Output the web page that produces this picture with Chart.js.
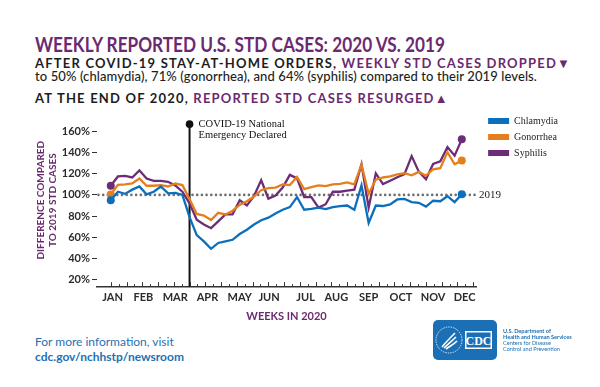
<!DOCTYPE html>
<html>
<head>
<meta charset="utf-8">
<script src="https://cdn.jsdelivr.net/npm/chart.js@4.4.0/dist/chart.umd.min.js"></script>
<style>
  body { margin: 0; background: #fff; }
  #page { position: relative; width: 600px; height: 387px; overflow: hidden; font-family: Lato, "Open Sans", sans-serif; }
  .line { position: absolute; left: 35px; white-space: nowrap; }
  .purple { color: #6b2a70; }
  #title { top: 32px; font-size: 20px; font-weight: 700; color: #6b2a70; transform: scaleX(0.86); transform-origin: 0 0; }
  #sub1 { top: 55px; font-size: 13px; font-weight: 700; color: #1d1d1d; letter-spacing: 1.2px; }
  #sub2 { top: 68px; font-size: 13px; font-weight: 500; color: #1d1d1d; letter-spacing: 0.1px; }
  #sub3 { top: 90px; font-size: 13px; font-weight: 700; color: #1d1d1d; letter-spacing: 1.2px; }
  #chartBox { position: absolute; left: 0; top: 105px; width: 600px; height: 225px; }
  #more { top: 334px; font-size: 12px; color: #1f70b4; }
  #url { top: 349px; font-size: 12px; font-weight: 700; color: #1f70b4; }
  #logo { position: absolute; left: 433px; top: 320px; width: 64px; height: 40px; background: #1b6fb5; border-radius: 5px; }
  #hhs { position: absolute; left: 503px; top: 328px; font-size: 5.6px; line-height: 6px; color: #1b6fb5; white-space: nowrap; }
  #hhs b { font-weight: 700; }
</style>
</head>
<body>
<div id="page">
  <div id="title" class="line">WEEKLY REPORTED U.S. STD CASES: 2020 VS. 2019</div>
  <div id="sub1" class="line">AFTER COVID-19 STAY-AT-HOME ORDERS, <span class="purple">WEEKLY STD CASES DROPPED▼</span></div>
  <div id="sub2" class="line">to 50% (chlamydia), 71% (gonorrhea), and 64% (syphilis) compared to their 2019 levels.</div>
  <div id="sub3" class="line">AT THE END OF 2020, <span class="purple">REPORTED STD CASES RESURGED▲</span></div>

  <div id="chartBox"><canvas id="stdChart" width="600" height="225"></canvas></div>

  <div id="more" class="line">For more information, visit</div>
  <div id="url" class="line">cdc.gov/nchhstp/newsroom</div>

  <div id="logo">
    <svg width="64" height="40" viewBox="0 0 64 40">
      <circle cx="16" cy="20" r="13" fill="none" stroke="#fff" stroke-width="0.8" stroke-dasharray="1.5 1"/>
      <path d="M9 27 C13 22 16 19 22 13 M11 28 C15 24 18 22 23 17 M13 29 C17 26 20 25 24 21" stroke="#fff" stroke-width="1.6" fill="none"/>
      <rect x="32" y="11" width="27" height="18" fill="#fff"/>
      <rect x="33.5" y="12.5" width="24" height="15" fill="#1b6fb5"/>
      <text x="45.5" y="24.5" text-anchor="middle" font-family="Liberation Serif" font-weight="700" font-size="12" fill="#fff">CDC</text>
    </svg>
  </div>
  <div id="hhs"><b>U.S. Department of<br>Health and Human Services</b><br>Centers for Disease<br>Control and Prevention</div>
</div>

<script>
// Values: % of the same week in 2019, weeks 1-50 of 2020
const chlamydia = [95, 103, 101, 105, 108, 100.5, 103, 108, 101.5, 102,
  100, 79, 62, 56, 49, 54.5, 56, 57.5, 63, 67,
  72, 76, 78.5, 82.5, 86, 88.5, 98, 86, 86.7, 88,
  86.5, 88.5, 89.3, 90, 86, 109, 73.5, 90, 89.5, 91,
  95.7, 96.3, 93.2, 92.5, 89, 94.5, 94, 98.8, 93.2, 100.7];
const gonorrhea = [100.4, 109.6, 110, 110.8, 115.5, 108.7, 108.7, 109.3, 108, 110.8,
  109.3, 96, 82, 80.5, 76.3, 83, 81.5, 85, 90.5, 94,
  98.5, 104.5, 106.5, 107, 110, 109.3, 117, 105.5, 107.3, 109,
  108.3, 110, 110.5, 111.8, 110, 128.7, 101, 114.5, 116.5, 117.5,
  119.5, 120.5, 118.5, 121.8, 118.2, 124.3, 125.3, 140.5, 129, 132.6];
const syphilis = [108.7, 117.5, 118, 116.5, 123.3, 115.5, 113.3, 113.3, 112.4, 109,
  103, 92, 76.5, 72, 68.5, 75, 81.5, 81.5, 95, 90,
  99, 114, 96.5, 99.4, 107, 119, 115.7, 98, 98, 88,
  91.2, 103, 103, 104, 105, 129, 88, 120.4, 110.2, 113.5,
  116.7, 119.7, 136.8, 122, 114.8, 129.3, 131.8, 145.3, 137.2, 152.6];

const months = ["JAN", "FEB", "MAR", "APR", "MAY", "JUN", "JUL", "AUG", "SEP", "OCT", "NOV", "DEC"];
const monthWeeks = [0.25, 4.55, 9, 13.5, 18, 22.1, 27.2, 31.5, 36, 40.5, 45, 49.4];
const yTicks = [20, 40, 60, 80, 100, 120, 140, 160];

const baseline = 100;      // 2019 level
const covidWeek = 11;      // national emergency declared
const covidTop = 167;
const minorStep = 1.1;     // spacing of the small axis ticks, in weeks

const purple = "#6b2a70";
const colors = { chlamydia: "#0a6fbc", gonorrhea: "#e57f1d", syphilis: "#6c2c78" };
const labelFont = { family: "Lato", weight: "bold", size: 11 };

const toPoints = (arr) => arr.map((v, i) => ({ x: i, y: v }));
const endDots = (ctx) => (ctx.dataIndex === 0 || ctx.dataIndex === ctx.dataset.data.length - 1) ? 4 : 0;

function series(label, data, color) {
  return {
    label: label,
    data: toPoints(data),
    yAxisID: "y",
    borderColor: color,
    backgroundColor: color,
    borderWidth: 2.3,
    tension: 0,
    pointRadius: endDots,
    pointHoverRadius: endDots,
    pointBorderWidth: 0,
    pointBackgroundColor: color
  };
}

// small up-pointing week ticks on the x axis
const tickMarks = {
  id: "tickMarks",
  afterDraw(chart) {
    const { ctx, chartArea, scales: { x } } = chart;
    ctx.save();
    ctx.strokeStyle = "#333";
    ctx.lineWidth = 1;
    for (let k = 0; k * minorStep <= x.max - 0.3; k++) {
      const px = Math.round(x.getPixelForValue(k * minorStep)) + 0.5;
      const len = k % 2 === 0 ? 4.5 : 2.5;
      ctx.beginPath();
      ctx.moveTo(px, chartArea.bottom);
      ctx.lineTo(px, chartArea.bottom - len);
      ctx.stroke();
    }
    ctx.restore();
  }
};

// dotted 2019 line and the COVID-19 marker
const refLines = {
  id: "refLines",
  beforeDatasetsDraw(chart) {
    const { ctx, chartArea, scales: { x, y } } = chart;
    const y100 = y.getPixelForValue(baseline);
    ctx.save();
    ctx.setLineDash([0, 4.7]);
    ctx.lineCap = "round";
    ctx.lineWidth = 2.6;
    ctx.strokeStyle = "#6e6e6e";
    ctx.beginPath();
    ctx.moveTo(chartArea.left + 1.5, y100);
    ctx.lineTo(chartArea.right - 1, y100);
    ctx.stroke();
    ctx.setLineDash([]);

    ctx.fillStyle = "#1a1a1a";
    ctx.font = '11px "Liberation Serif"';
    ctx.textBaseline = "middle";
    ctx.fillText("2019", chartArea.right + 3, y100);

    const cx = x.getPixelForValue(covidWeek);
    const top = y.getPixelForValue(covidTop);
    ctx.strokeStyle = "#111";
    ctx.lineWidth = 2;
    ctx.lineCap = "butt";
    ctx.beginPath();
    ctx.moveTo(cx, chartArea.bottom);
    ctx.lineTo(cx, top);
    ctx.stroke();
    ctx.fillStyle = "#111";
    ctx.beginPath();
    ctx.arc(cx, top, 3.8, 0, Math.PI * 2);
    ctx.fill();
    ctx.font = '10.5px "Liberation Serif"';
    ctx.fillText("COVID-19 National", cx + 9, top);
    ctx.fillText("Emergency Declared", cx + 9, top + 11.5);
    ctx.restore();
  }
};

new Chart(document.getElementById("stdChart"), {
  type: "line",
  data: {
    datasets: [
      series("Chlamydia", chlamydia, colors.chlamydia),
      series("Gonorrhea", gonorrhea, colors.gonorrhea),
      series("Syphilis", syphilis, colors.syphilis)
    ]
  },
  options: {
    responsive: false,
    animation: false,
    devicePixelRatio: 1,
    layout: { padding: { top: 5, right: 32, bottom: 3.3, left: 0 } },
    scales: {
      x: {
        type: "linear",
        min: -1.92,
        max: 51,
        afterBuildTicks: (s) => { s.ticks = monthWeeks.map((v) => ({ value: v })); },
        afterFit: (s) => { s.height = 40; },
        grid: { display: false, drawTicks: false },
        border: { display: true, color: "#333", width: 1.5 },
        ticks: {
          autoSkip: false,
          maxRotation: 0,
          padding: 4,
          color: "#2b2b2b",
          font: labelFont,
          callback: (v, i) => months[i]
        },
        title: {
          display: true,
          text: "WEEKS IN 2020",
          color: purple,
          font: { family: "Lato", weight: "bold", size: 11, lineHeight: 1.1 },
          padding: { top: 0, bottom: 4 }
        }
      },
      y: {
        type: "linear",
        min: 13.1,
        max: 177,
        afterBuildTicks: (s) => { s.ticks = yTicks.map((v) => ({ value: v })); },
        afterFit: (s) => { s.width = 97; },
        border: { display: false },
        grid: { drawOnChartArea: false, drawTicks: true, tickLength: 5, color: "#333" },
        ticks: { padding: 2, color: "#2b2b2b", font: labelFont, callback: (v) => v + "%" },
        title: {
          display: true,
          text: ["DIFFERENCE COMPARED", "TO 2019 STD CASES"],
          color: purple,
          font: { family: "Lato", weight: "bold", size: 10, lineHeight: 1.2 },
          padding: { top: 35, bottom: 0 }
        }
      },
      // empty spacer between plot and legend
      gap: {
        axis: "y",
        position: "right",
        display: true,
        afterFit: (s) => { s.width = 6; },
        grid: { display: false, drawTicks: false },
        border: { display: false },
        ticks: { display: false }
      }
    },
    plugins: {
      legend: {
        position: "right",
        align: "start",
        labels: {
          boxWidth: 21,
          boxHeight: 6,
          padding: 6,
          color: "#222",
          font: { family: "Liberation Serif", size: 10 },
          generateLabels: (chart) => Chart.defaults.plugins.legend.labels.generateLabels(chart)
            .map((l) => ({ ...l, lineWidth: 0 }))
        }
      },
      tooltip: { enabled: false }
    }
  },
  plugins: [refLines, tickMarks]
});
</script>
</body>
</html>
